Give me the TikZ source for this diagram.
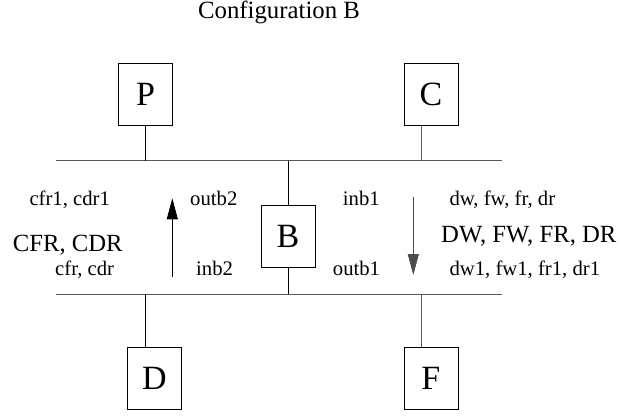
\documentclass[tikz,border=0pt]{standalone}
\usepackage{fontspec}
\setmainfont{Liberation Serif}
\usetikzlibrary{arrows.meta}
\begin{document}
\begin{tikzpicture}[x=1pt,y=-1pt,
  unit/.style={draw,line width=0.8pt,minimum width=54pt,minimum height=62pt,inner sep=0pt,font=\fontsize{34}{40}\selectfont},
  small/.style={anchor=base west,inner sep=0pt,font=\fontsize{20.7}{24}\selectfont},
  large/.style={anchor=base west,inner sep=0pt,font=\fontsize{24.7}{29}\selectfont},
  wire/.style={line width=0.8pt},
  gwire/.style={line width=0.8pt,draw=black!65},
  flow/.style={line width=0.8pt,-{Triangle[length=21pt,width=11pt]}}]
\useasboundingbox (0,0) rectangle (621,415);
% title
\node[anchor=base,inner sep=0pt,font=\fontsize{24.8}{29}\selectfont] (title) at (279,19) {Configuration B};
% boxes
\node[unit] (P) at (145.7,94.2) {P};
\node[unit] (C) at (430.9,94.2) {C};
\node[unit] (B) at (288.0,236.3) {B};
\node[unit] (D) at (154.5,378.2) {D};
\node[unit] (F) at (430.9,378.2) {F};
% buses
\coordinate (tl) at (56,160.7);
\coordinate (tr) at (502,160.7);
\coordinate (bl) at (56,294);
\coordinate (br) at (502,294);
\coordinate (t1) at (145.7,160.7);
\coordinate (t2) at (421.7,160.7);
\coordinate (t3) at (288.3,160.7);
\coordinate (b1) at (145.7,294);
\coordinate (b2) at (421.7,294);
\coordinate (b3) at (288.3,294);
\draw[gwire] (tl) -- (tr);
\draw[gwire] (bl) -- (br);
\draw[wire] (P.south) -- (t1);
\draw[gwire] (t2) -- (t2 |- C.south);
\draw[wire] (t3) -- (t3 |- B.north);
\draw[wire] (b3) -- (b3 |- B.south);
\draw[wire] (b1) -- (b1 |- D.north);
\draw[gwire] (b2) -- (b2 |- F.north);
% flow arrows
\coordinate (u0) at (172.3,276.7);
\coordinate (u1) at (172.3,198.3);
\coordinate (d0) at (413.3,196.7);
\coordinate (d1) at (413.3,275);
\draw[flow] (u0) -- (u1);
\draw[flow,draw=black!70,fill=black] (d0) -- (d1);
% labels
\node[small] (l1) at (29.3,205) {cfr1, cdr1};
\node[small] (l2) at (190,205) {outb2};
\node[small] (l3) at (342.7,205) {inb1};
\node[small] (l4) at (449.3,205) {dw, fw, fr, dr};
\node[large] (l5) at (12.7,251) {CFR, CDR};
\node[large] (l6) at (441,242) {DW, FW, FR, DR};
\node[small] (l7) at (55,275) {cfr, cdr};
\node[small] (l8) at (196,275) {inb2};
\node[small] (l9) at (332.7,275) {outb1};
\node[small] (l10) at (449.3,275) {dw1, fw1, fr1, dr1};
\end{tikzpicture}
\end{document}
